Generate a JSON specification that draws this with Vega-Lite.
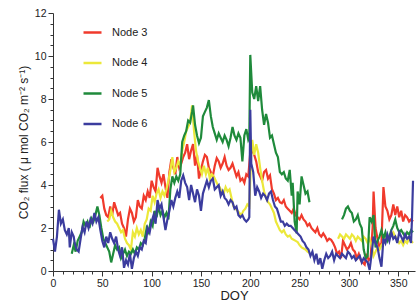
{
"$schema": "https://vega.github.io/schema/vega-lite/v6.json",
"width": 362, "height": 258,
"autosize": {"type": "none"},
"padding": {"left": 53, "top": 13, "right": 1, "bottom": 32},
"background": "white",
"config": {"view": {"stroke": null}, "font": "Liberation Sans",
 "axis": {"grid": false, "domainColor": "#333", "tickColor": "#333", "labelColor": "#222", "titleColor": "#222", "labelFont": "Liberation Sans", "titleFont": "Liberation Sans", "titleFontWeight": "normal", "domainWidth": 1, "tickWidth": 1}},
"datasets": {
"s3": [{"d":48,"v":3.4},{"d":50,"v":3.5},{"d":52,"v":2.9},{"d":54,"v":2.6},{"d":56,"v":2.5},{"d":58,"v":3.0},{"d":60,"v":2.6},{"d":62,"v":3.2},{"d":64,"v":2.9},{"d":66,"v":2.6},{"d":68,"v":2.7},{"d":70,"v":2.2},{"d":72,"v":2.0},{"d":74,"v":1.6},{"d":76,"v":2.4},{"d":78,"v":2.9},{"d":80,"v":2.7},{"d":82,"v":2.3},{"d":84,"v":2.5},{"d":86,"v":3.3},{"d":88,"v":3.0},{"d":90,"v":2.9},{"d":92,"v":3.5},{"d":94,"v":3.3},{"d":96,"v":3.7},{"d":98,"v":3.4},{"d":100,"v":4.2},{"d":102,"v":3.9},{"d":104,"v":3.7},{"d":106,"v":4.8},{"d":108,"v":4.4},{"d":110,"v":4.1},{"d":112,"v":4.5},{"d":114,"v":3.9},{"d":116,"v":3.4},{"d":118,"v":4.6},{"d":120,"v":5.2},{"d":122,"v":4.8},{"d":124,"v":4.5},{"d":126,"v":5.3},{"d":128,"v":4.8},{"d":130,"v":5.0},{"d":132,"v":5.3},{"d":134,"v":5.5},{"d":136,"v":5.9},{"d":138,"v":5.2},{"d":140,"v":5.6},{"d":142,"v":5.9},{"d":144,"v":4.9},{"d":146,"v":5.4},{"d":148,"v":4.3},{"d":150,"v":4.7},{"d":152,"v":5.1},{"d":154,"v":5.4},{"d":156,"v":5.3},{"d":158,"v":4.8},{"d":160,"v":4.6},{"d":162,"v":4.4},{"d":164,"v":4.9},{"d":166,"v":5.25},{"d":168,"v":5.1},{"d":170,"v":4.8},{"d":172,"v":5.0},{"d":174,"v":5.3},{"d":176,"v":4.9},{"d":178,"v":4.7},{"d":180,"v":4.8},{"d":182,"v":5.0},{"d":184,"v":4.7},{"d":186,"v":4.4},{"d":188,"v":4.6},{"d":190,"v":4.2},{"d":192,"v":4.3},{"d":194,"v":4.1},{"d":196,"v":4.5},{"d":198,"v":4.4},{"d":200,"v":5.5},{"d":202,"v":5.6},{"d":204,"v":5.4},{"d":206,"v":5.1},{"d":208,"v":4.6},{"d":210,"v":4.4},{"d":212,"v":4.2},{"d":214,"v":4.6},{"d":216,"v":4.7},{"d":218,"v":4.3},{"d":220,"v":4.45},{"d":222,"v":3.8},{"d":224,"v":3.6},{"d":226,"v":3.3},{"d":228,"v":3.4},{"d":230,"v":3.2},{"d":232,"v":3.15},{"d":234,"v":3.3},{"d":236,"v":3.0},{"d":238,"v":2.9},{"d":240,"v":2.8},{"d":242,"v":2.7},{"d":244,"v":2.9},{"d":246,"v":2.6},{"d":248,"v":2.5},{"d":250,"v":2.4},{"d":252,"v":2.6},{"d":254,"v":2.4},{"d":256,"v":2.3},{"d":258,"v":2.1},{"d":260,"v":2.2},{"d":262,"v":2.0},{"d":264,"v":1.9},{"d":266,"v":1.8},{"d":268,"v":2.0},{"d":270,"v":1.7},{"d":272,"v":1.6},{"d":274,"v":1.75},{"d":276,"v":1.6},{"d":278,"v":1.4},{"d":280,"v":1.5},{"d":282,"v":1.45},{"d":284,"v":1.3},{"d":286,"v":1.1},{"d":288,"v":0.8},{"d":290,"v":0.9},{"d":292,"v":0.6},{"d":294,"v":1.4},{"d":296,"v":1.2},{"d":298,"v":1.0},{"d":300,"v":1.1},{"d":302,"v":1.3},{"d":304,"v":1.0},{"d":306,"v":0.9},{"d":308,"v":0.6},{"d":310,"v":0.8},{"d":312,"v":0.5},{"d":314,"v":0.4},{"d":316,"v":0.3},{"d":318,"v":0.8},{"d":320,"v":0.5},{"d":322,"v":0.6},{"d":324,"v":2.0},{"d":325,"v":3.7},{"d":327,"v":2.0},{"d":329,"v":1.5},{"d":331,"v":1.1},{"d":333,"v":1.3},{"d":335,"v":3.9},{"d":337,"v":3.0},{"d":339,"v":2.8},{"d":341,"v":2.4},{"d":343,"v":2.6},{"d":345,"v":3.1},{"d":347,"v":2.6},{"d":349,"v":3.0},{"d":351,"v":2.5},{"d":353,"v":2.8},{"d":355,"v":2.3},{"d":357,"v":2.6},{"d":359,"v":2.5},{"d":361,"v":2.3},{"d":363,"v":2.4},{"d":365,"v":2.3}],
"s4": [{"d":55,"v":2.3},{"d":57,"v":2.4},{"d":59,"v":2.8},{"d":61,"v":2.5},{"d":63,"v":2.3},{"d":65,"v":2.2},{"d":67,"v":2.0},{"d":69,"v":1.8},{"d":71,"v":1.9},{"d":73,"v":1.5},{"d":75,"v":1.3},{"d":77,"v":1.2},{"d":79,"v":1.0},{"d":81,"v":1.8},{"d":83,"v":1.6},{"d":85,"v":2.0},{"d":87,"v":1.7},{"d":89,"v":1.9},{"d":91,"v":1.6},{"d":93,"v":2.2},{"d":95,"v":2.4},{"d":97,"v":2.9},{"d":99,"v":2.8},{"d":101,"v":3.5},{"d":103,"v":3.2},{"d":105,"v":3.6},{"d":107,"v":3.8},{"d":109,"v":3.4},{"d":111,"v":3.7},{"d":113,"v":3.5},{"d":115,"v":3.8},{"d":117,"v":4.2},{"d":119,"v":4.7},{"d":121,"v":5.3},{"d":123,"v":4.6},{"d":125,"v":4.8},{"d":127,"v":5.1},{"d":129,"v":4.9},{"d":131,"v":5.6},{"d":133,"v":6.0},{"d":135,"v":6.5},{"d":137,"v":6.7},{"d":139,"v":6.9},{"d":141,"v":7.7},{"d":143,"v":6.5},{"d":145,"v":5.6},{"d":147,"v":5.1},{"d":149,"v":4.8},{"d":151,"v":4.5},{"d":153,"v":4.9},{"d":155,"v":4.5},{"d":157,"v":4.8},{"d":159,"v":4.3},{"d":161,"v":4.5},{"d":163,"v":4.4},{"d":165,"v":4.2},{"d":167,"v":4.0},{"d":169,"v":3.9},{"d":171,"v":3.7},{"d":173,"v":3.6},{"d":175,"v":3.9},{"d":177,"v":3.7},{"d":179,"v":3.8},{"d":181,"v":3.4},{"d":183,"v":3.0},{"d":185,"v":2.9},{"d":187,"v":2.8},{"d":189,"v":2.7},{"d":191,"v":2.6},{"d":193,"v":2.8},{"d":195,"v":2.9},{"d":197,"v":3.1},{"d":199,"v":3.0},{"d":201,"v":5.5},{"d":202,"v":6.1},{"d":204,"v":5.4},{"d":206,"v":5.9},{"d":208,"v":5.5},{"d":210,"v":4.8},{"d":212,"v":4.2},{"d":214,"v":3.7},{"d":216,"v":3.4},{"d":218,"v":3.2},{"d":220,"v":3.1},{"d":222,"v":2.9},{"d":224,"v":2.7},{"d":226,"v":2.3},{"d":228,"v":2.1},{"d":230,"v":1.9},{"d":232,"v":1.8},{"d":234,"v":1.9},{"d":236,"v":1.7},{"d":238,"v":1.6},{"d":240,"v":1.65},{"d":242,"v":1.5},{"d":244,"v":1.45},{"d":246,"v":1.4},{"d":248,"v":1.35},{"d":250,"v":1.2},{"d":252,"v":1.1},{"d":254,"v":1.05},{"d":256,"v":1.0},{"d":258,"v":0.9},{"d":260,"v":0.85},{"d":261,"v":null},{"d":289,"v":1.5},{"d":291,"v":1.7},{"d":293,"v":1.6},{"d":295,"v":1.5},{"d":297,"v":1.7},{"d":299,"v":1.6},{"d":301,"v":1.5},{"d":303,"v":1.7},{"d":305,"v":1.6},{"d":307,"v":1.4},{"d":309,"v":1.6},{"d":311,"v":1.5},{"d":313,"v":1.4},{"d":315,"v":1.6},{"d":317,"v":1.5},{"d":319,"v":1.3},{"d":321,"v":1.5},{"d":323,"v":1.2},{"d":325,"v":0.7},{"d":327,"v":0.9},{"d":329,"v":1.1},{"d":331,"v":1.0},{"d":333,"v":1.2},{"d":335,"v":1.3},{"d":337,"v":1.5},{"d":339,"v":1.4},{"d":341,"v":1.6},{"d":343,"v":1.7},{"d":345,"v":1.8},{"d":347,"v":1.6},{"d":349,"v":1.5},{"d":351,"v":1.3},{"d":353,"v":1.4},{"d":355,"v":1.2},{"d":357,"v":1.4},{"d":359,"v":1.3},{"d":361,"v":1.5},{"d":363,"v":1.4},{"d":365,"v":1.3}],
"s5": [{"d":19,"v":0.8},{"d":21,"v":1.2},{"d":23,"v":0.9},{"d":25,"v":1.4},{"d":27,"v":1.6},{"d":29,"v":1.8},{"d":31,"v":2.3},{"d":33,"v":2.1},{"d":35,"v":2.3},{"d":37,"v":2.0},{"d":39,"v":2.45},{"d":41,"v":2.3},{"d":43,"v":2.6},{"d":45,"v":3.0},{"d":47,"v":2.6},{"d":49,"v":2.0},{"d":51,"v":1.5},{"d":53,"v":1.3},{"d":55,"v":1.1},{"d":57,"v":0.9},{"d":59,"v":0.4},{"d":61,"v":0.8},{"d":63,"v":1.2},{"d":65,"v":1.0},{"d":67,"v":1.1},{"d":69,"v":0.6},{"d":71,"v":0.8},{"d":73,"v":1.0},{"d":75,"v":0.7},{"d":77,"v":0.9},{"d":79,"v":0.8},{"d":81,"v":1.0},{"d":83,"v":0.8},{"d":85,"v":1.1},{"d":87,"v":1.0},{"d":89,"v":1.3},{"d":91,"v":1.2},{"d":93,"v":1.5},{"d":95,"v":2.0},{"d":97,"v":1.8},{"d":99,"v":2.3},{"d":101,"v":2.1},{"d":103,"v":2.8},{"d":105,"v":2.5},{"d":107,"v":3.0},{"d":109,"v":2.6},{"d":111,"v":2.8},{"d":113,"v":2.5},{"d":115,"v":2.7},{"d":117,"v":2.4},{"d":119,"v":3.8},{"d":121,"v":4.4},{"d":123,"v":4.1},{"d":125,"v":4.4},{"d":127,"v":4.2},{"d":129,"v":4.5},{"d":131,"v":6.0},{"d":133,"v":6.3},{"d":135,"v":6.5},{"d":137,"v":7.0},{"d":139,"v":6.9},{"d":141,"v":7.4},{"d":142,"v":7.7},{"d":144,"v":6.8},{"d":146,"v":6.3},{"d":148,"v":5.95},{"d":150,"v":6.2},{"d":152,"v":7.2},{"d":154,"v":7.4},{"d":156,"v":7.6},{"d":158,"v":7.95},{"d":160,"v":7.2},{"d":162,"v":6.7},{"d":164,"v":6.4},{"d":166,"v":6.1},{"d":168,"v":6.4},{"d":170,"v":6.2},{"d":172,"v":6.0},{"d":174,"v":6.3},{"d":176,"v":6.1},{"d":178,"v":5.8},{"d":180,"v":6.2},{"d":182,"v":6.7},{"d":184,"v":6.3},{"d":186,"v":6.1},{"d":188,"v":6.4},{"d":190,"v":6.2},{"d":192,"v":5.1},{"d":194,"v":6.3},{"d":196,"v":6.6},{"d":198,"v":6.1},{"d":199,"v":6.2},{"d":200,"v":10.05},{"d":202,"v":8.3},{"d":204,"v":8.0},{"d":206,"v":8.6},{"d":208,"v":7.9},{"d":210,"v":8.6},{"d":212,"v":7.5},{"d":214,"v":6.8},{"d":216,"v":7.3},{"d":218,"v":6.9},{"d":220,"v":6.2},{"d":222,"v":6.3},{"d":224,"v":5.9},{"d":226,"v":5.5},{"d":228,"v":5.3},{"d":230,"v":4.6},{"d":232,"v":4.5},{"d":234,"v":4.6},{"d":236,"v":4.3},{"d":238,"v":4.2},{"d":240,"v":4.7},{"d":242,"v":3.5},{"d":243,"v":4.1},{"d":245,"v":2.3},{"d":247,"v":1.75},{"d":248,"v":3.7},{"d":250,"v":3.1},{"d":252,"v":4.4},{"d":254,"v":4.0},{"d":256,"v":3.6},{"d":258,"v":3.7},{"d":260,"v":3.2},{"d":261,"v":null},{"d":293,"v":2.4},{"d":295,"v":2.6},{"d":297,"v":2.9},{"d":299,"v":3.0},{"d":301,"v":2.8},{"d":303,"v":2.7},{"d":305,"v":2.3},{"d":307,"v":2.4},{"d":309,"v":2.6},{"d":311,"v":2.2},{"d":313,"v":2.0},{"d":315,"v":1.0},{"d":317,"v":0.6},{"d":319,"v":0.7},{"d":321,"v":2.5},{"d":323,"v":2.3},{"d":325,"v":2.6},{"d":327,"v":1.1},{"d":329,"v":1.4},{"d":331,"v":1.6},{"d":333,"v":1.9},{"d":335,"v":1.5},{"d":337,"v":1.8},{"d":339,"v":1.4},{"d":341,"v":1.6},{"d":343,"v":1.9},{"d":345,"v":2.1},{"d":347,"v":2.4},{"d":349,"v":2.0},{"d":351,"v":1.8},{"d":353,"v":1.9},{"d":355,"v":1.75},{"d":357,"v":1.6},{"d":359,"v":1.8},{"d":361,"v":1.7},{"d":363,"v":1.9},{"d":365,"v":1.8}],
"s6": [{"d":0,"v":1.5},{"d":2,"v":0.9},{"d":4,"v":1.6},{"d":6,"v":2.85},{"d":8,"v":2.2},{"d":10,"v":2.4},{"d":12,"v":1.9},{"d":14,"v":1.7},{"d":16,"v":2.0},{"d":17,"v":1.1},{"d":19,"v":1.8},{"d":21,"v":1.6},{"d":22,"v":1.3},{"d":24,"v":1.0},{"d":26,"v":0.9},{"d":28,"v":1.5},{"d":30,"v":2.05},{"d":32,"v":1.8},{"d":34,"v":2.3},{"d":36,"v":2.0},{"d":38,"v":2.4},{"d":40,"v":2.2},{"d":42,"v":2.7},{"d":44,"v":2.3},{"d":46,"v":2.5},{"d":48,"v":1.9},{"d":50,"v":1.4},{"d":52,"v":1.1},{"d":54,"v":1.6},{"d":56,"v":1.3},{"d":58,"v":1.8},{"d":60,"v":1.5},{"d":62,"v":1.3},{"d":64,"v":1.6},{"d":66,"v":1.0},{"d":68,"v":0.7},{"d":70,"v":1.1},{"d":72,"v":0.15},{"d":74,"v":0.5},{"d":76,"v":0.3},{"d":78,"v":0.8},{"d":80,"v":0.1},{"d":82,"v":0.6},{"d":84,"v":0.9},{"d":86,"v":0.7},{"d":88,"v":1.1},{"d":90,"v":1.0},{"d":92,"v":1.4},{"d":94,"v":1.3},{"d":96,"v":2.0},{"d":98,"v":1.8},{"d":100,"v":2.3},{"d":102,"v":2.6},{"d":104,"v":2.2},{"d":106,"v":3.3},{"d":108,"v":2.9},{"d":110,"v":3.1},{"d":112,"v":2.5},{"d":114,"v":1.9},{"d":116,"v":2.4},{"d":118,"v":2.8},{"d":120,"v":3.3},{"d":122,"v":3.0},{"d":124,"v":3.4},{"d":126,"v":3.7},{"d":128,"v":3.4},{"d":130,"v":4.2},{"d":132,"v":4.45},{"d":134,"v":4.1},{"d":136,"v":3.9},{"d":138,"v":3.3},{"d":140,"v":4.0},{"d":142,"v":3.6},{"d":144,"v":3.2},{"d":146,"v":3.8},{"d":148,"v":3.5},{"d":150,"v":2.8},{"d":152,"v":3.6},{"d":154,"v":3.9},{"d":156,"v":4.2},{"d":158,"v":3.9},{"d":160,"v":4.2},{"d":162,"v":4.3},{"d":164,"v":3.8},{"d":166,"v":3.9},{"d":168,"v":4.0},{"d":170,"v":3.5},{"d":172,"v":3.7},{"d":174,"v":3.4},{"d":176,"v":3.3},{"d":178,"v":3.1},{"d":180,"v":3.3},{"d":182,"v":3.2},{"d":184,"v":2.9},{"d":186,"v":3.0},{"d":188,"v":2.6},{"d":190,"v":2.5},{"d":192,"v":2.6},{"d":194,"v":2.4},{"d":196,"v":2.3},{"d":198,"v":2.4},{"d":199,"v":2.5},{"d":200,"v":7.5},{"d":201,"v":5.0},{"d":203,"v":4.6},{"d":205,"v":3.5},{"d":207,"v":3.9},{"d":209,"v":3.7},{"d":211,"v":3.4},{"d":213,"v":3.6},{"d":215,"v":3.5},{"d":217,"v":3.3},{"d":219,"v":3.6},{"d":221,"v":3.7},{"d":223,"v":3.3},{"d":225,"v":3.0},{"d":227,"v":2.9},{"d":229,"v":2.6},{"d":231,"v":2.3},{"d":233,"v":2.3},{"d":235,"v":2.1},{"d":237,"v":2.2},{"d":239,"v":2.1},{"d":241,"v":2.1},{"d":243,"v":2.0},{"d":245,"v":1.9},{"d":247,"v":1.8},{"d":249,"v":1.7},{"d":251,"v":1.6},{"d":253,"v":1.4},{"d":255,"v":1.3},{"d":257,"v":1.1},{"d":259,"v":1.0},{"d":261,"v":0.7},{"d":263,"v":0.9},{"d":265,"v":0.5},{"d":267,"v":0.8},{"d":269,"v":0.3},{"d":271,"v":0.6},{"d":273,"v":0.1},{"d":275,"v":0.5},{"d":277,"v":0.8},{"d":279,"v":0.6},{"d":281,"v":0.7},{"d":283,"v":0.9},{"d":285,"v":0.5},{"d":287,"v":0.8},{"d":289,"v":0.7},{"d":291,"v":0.6},{"d":293,"v":0.8},{"d":295,"v":0.7},{"d":297,"v":0.6},{"d":299,"v":0.9},{"d":301,"v":0.8},{"d":303,"v":0.6},{"d":305,"v":0.7},{"d":307,"v":0.5},{"d":309,"v":0.6},{"d":311,"v":0.7},{"d":313,"v":0.4},{"d":315,"v":0.6},{"d":317,"v":0.5},{"d":319,"v":0.4},{"d":321,"v":0.05},{"d":323,"v":0.8},{"d":325,"v":1.6},{"d":327,"v":1.3},{"d":329,"v":1.1},{"d":331,"v":0.6},{"d":333,"v":0.2},{"d":335,"v":1.5},{"d":337,"v":1.3},{"d":339,"v":1.7},{"d":341,"v":1.4},{"d":343,"v":1.8},{"d":345,"v":1.5},{"d":347,"v":1.6},{"d":349,"v":1.3},{"d":351,"v":1.8},{"d":353,"v":1.6},{"d":355,"v":1.4},{"d":357,"v":1.7},{"d":359,"v":1.5},{"d":361,"v":1.6},{"d":363,"v":1.3},{"d":364,"v":2.5},{"d":365,"v":4.2}]
},
"encoding": {
 "x": {"field": "d", "type": "quantitative", "scale": {"domain": [0, 367], "nice": false, "zero": false},
  "axis": {"title": "DOY", "values": [0,10,20,30,40,50,60,70,80,90,100,110,120,130,140,150,160,170,180,190,200,210,220,230,240,250,260,270,280,290,300,310,320,330,340,350,360],
   "labelExpr": "datum.value % 50 === 0 ? format(datum.value, 'd') : ''",
   "tickSize": {"condition": {"test": "datum.value % 50 === 0", "value": 5}, "value": 3},
   "labelFontSize": 10.5, "titleFontSize": 13, "labelPadding": 2, "titlePadding": 1, "labelOverlap": false, "labelFlush": false}},
 "y": {"field": "v", "type": "quantitative", "scale": {"domain": [0, 12], "nice": false},
  "axis": {"title": "CO₂ flux ( μ mol CO₂ m⁻² s⁻¹)", "values": [0,0.5,1,1.5,2,2.5,3,3.5,4,4.5,5,5.5,6,6.5,7,7.5,8,8.5,9,9.5,10,10.5,11,11.5,12],
   "labelExpr": "datum.value % 2 === 0 ? format(datum.value, 'd') : ''",
   "tickSize": {"condition": {"test": "datum.value % 2 === 0", "value": 5}, "value": 3},
   "labelFontSize": 10.5, "titleFontSize": 12, "labelPadding": 2, "titlePadding": 4, "labelOverlap": false, "labelFlush": false}}
},
"layer": [
 {"data": {"name": "s3"}, "mark": {"type": "line", "strokeWidth": 2.2}, "encoding": {"color": {"datum": "Node 3", "type": "nominal",
   "scale": {"domain": ["Node 3", "Node 4", "Node 5", "Node 6"], "range": ["#f03a2c", "#ece83a", "#1f8a3b", "#3b3c9e"]},
   "legend": {"title": null, "orient": "none", "legendX": 29, "legendY": 9, "symbolType": "stroke", "symbolSize": 324, "symbolStrokeWidth": 2.5, "labelFontSize": 11, "labelOffset": 9, "rowPadding": 14.5, "padding": 0, "labelFont": "Liberation Sans", "labelColor": "#222"}}}},
 {"data": {"name": "s4"}, "mark": {"type": "line", "strokeWidth": 2.2}, "encoding": {"color": {"datum": "Node 4", "type": "nominal"}}},
 {"data": {"name": "s5"}, "mark": {"type": "line", "strokeWidth": 2.2}, "encoding": {"color": {"datum": "Node 5", "type": "nominal"}}},
 {"data": {"name": "s6"}, "mark": {"type": "line", "strokeWidth": 2.2}, "encoding": {"color": {"datum": "Node 6", "type": "nominal"}}}
]
}
